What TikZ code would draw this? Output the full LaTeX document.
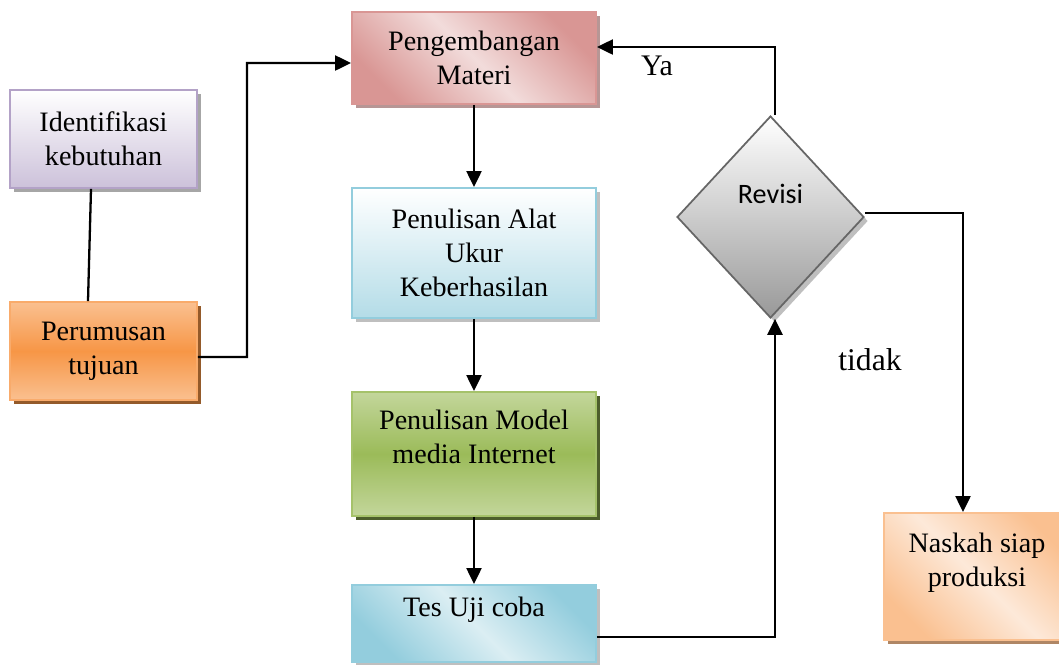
\documentclass[tikz,border=0pt]{standalone}
\usepackage{fontspec}
\setmainfont{Liberation Serif}
\newfontfamily\calibri{Carlito}
\usetikzlibrary{shapes.geometric,shadows,arrows.meta}

\definecolor{ungu}{HTML}{CCC1DA}
\definecolor{unguTepi}{HTML}{B3A2C7}
\definecolor{oranye}{HTML}{F79646}
\definecolor{oranyeMuda}{HTML}{FAC090}
\definecolor{merah}{HTML}{D99694}
\definecolor{merahMuda}{HTML}{F2DCDB}
\definecolor{biru}{HTML}{93CDDD}
\definecolor{biruMuda}{HTML}{DBEEF3}
\definecolor{hijau}{HTML}{9BBB59}
\definecolor{hijauMuda}{HTML}{C3D69B}
\definecolor{persik}{HTML}{FDE9D9}

\begin{document}
\begin{tikzpicture}[x=0.02cm, y=-0.02cm, >={Triangle[length=0.32cm,width=0.3cm]},
		kotak/.style={rectangle, draw, line width=1.1pt, align=center, inner sep=2pt,
			font=\fontsize{16}{19.5}\selectfont},
		bayang/.style={drop shadow={shadow xshift=0.08cm, shadow yshift=-0.08cm, opacity=1, fill=#1}},
		panah/.style={->, line width=1.3pt},
		garis/.style={line width=1.3pt}]
	
	\useasboundingbox (0,0) rectangle (1059,664);
	
	% Kotak di kiri
	\node[kotak, minimum width=3.74cm, minimum height=1.96cm, draw=unguTepi,
		top color=white, bottom color=ungu, bayang={black!35}] (ident) at (103.5,139) {Identifikasi\\kebutuhan};
	\node[kotak, minimum width=3.74cm, minimum height=1.96cm, draw=oranye!80,
		top color=oranyeMuda, bottom color=oranyeMuda, middle color=oranye, bayang={oranye!60!black}] (rumus) at (103.5,351) {Perumusan\\tujuan};
	
	% Kotak di tengah
	\node[kotak, minimum width=4.88cm, minimum height=1.84cm, draw=merah,
		top color=merah, bottom color=merah, middle color=merahMuda, shading angle=-45, bayang={merah!70!black!70}] (kembang) at (474,58) {Pengembangan\\Materi};
	\node[kotak, minimum width=4.88cm, minimum height=2.6cm, draw=biru,
		top color=white, bottom color=biru!70, bayang={black!25}] (alat) at (474,253) {Penulisan Alat\\Ukur\\Keberhasilan};
	\node[kotak, minimum width=4.88cm, minimum height=2.48cm, draw=hijau!90,
		top color=hijauMuda, bottom color=hijauMuda, middle color=hijau, bayang={hijau!50!black}] (model) at (474,454) {Penulisan Model\\media Internet\\\mbox{}};
	\node[kotak, minimum width=4.88cm, minimum height=1.54cm, draw=biru,
		top color=biru, bottom color=biru, middle color=biruMuda, shading angle=-45, bayang={black!25}] (tes) at (474,623.5) {Tes Uji coba\\\mbox{}};
	
	% Belah ketupat dan kotak di kanan
	\node[diamond, draw=black!60, line width=1pt, minimum width=3.74cm, minimum height=4.04cm,
		top color=white, bottom color=black!40, bayang={black!25},
		font=\calibri\fontsize{16}{19}\selectfont, text height=0.36cm, text depth=0.92cm] (revisi) at (770.5,217) {Revisi};
	\node[kotak, minimum width=3.72cm, minimum height=2.54cm, draw=oranyeMuda,
		top color=oranyeMuda, bottom color=oranyeMuda, middle color=persik, shading angle=-45, bayang={oranyeMuda!70!black}] (naskah) at (977,576.5) {Naskah siap\\produksi\\\mbox{}};
	
	% Garis penghubung
	\draw[garis] ([xshift=-0.25cm]ident.south) -- ([xshift=-0.31cm]rumus.north);
	\draw[panah] ([yshift=-0.12cm]rumus.east) -- (247,357) |- ([yshift=-0.1cm]kembang.west);
	\draw[panah] (kembang) -- (alat);
	\draw[panah] (alat) -- (model);
	\draw[panah] (model) -- (tes);
	\draw[panah] ([yshift=-0.27cm]tes.east) -| ([xshift=0.09cm]revisi.south);
	\draw[panah] ([xshift=0.09cm]revisi.north) |- ([yshift=0.22cm]kembang.east);
	\draw[panah] ([yshift=0.08cm]revisi.east) -| ([xshift=-0.28cm]naskah.north);
	
	% Label
	\node[font=\fontsize{17}{20}\selectfont] (ya) at (657,66) {Ya};
	\node[font=\fontsize{18}{21}\selectfont] (tidak) at (870,360) {tidak};
	
\end{tikzpicture}
\end{document}
